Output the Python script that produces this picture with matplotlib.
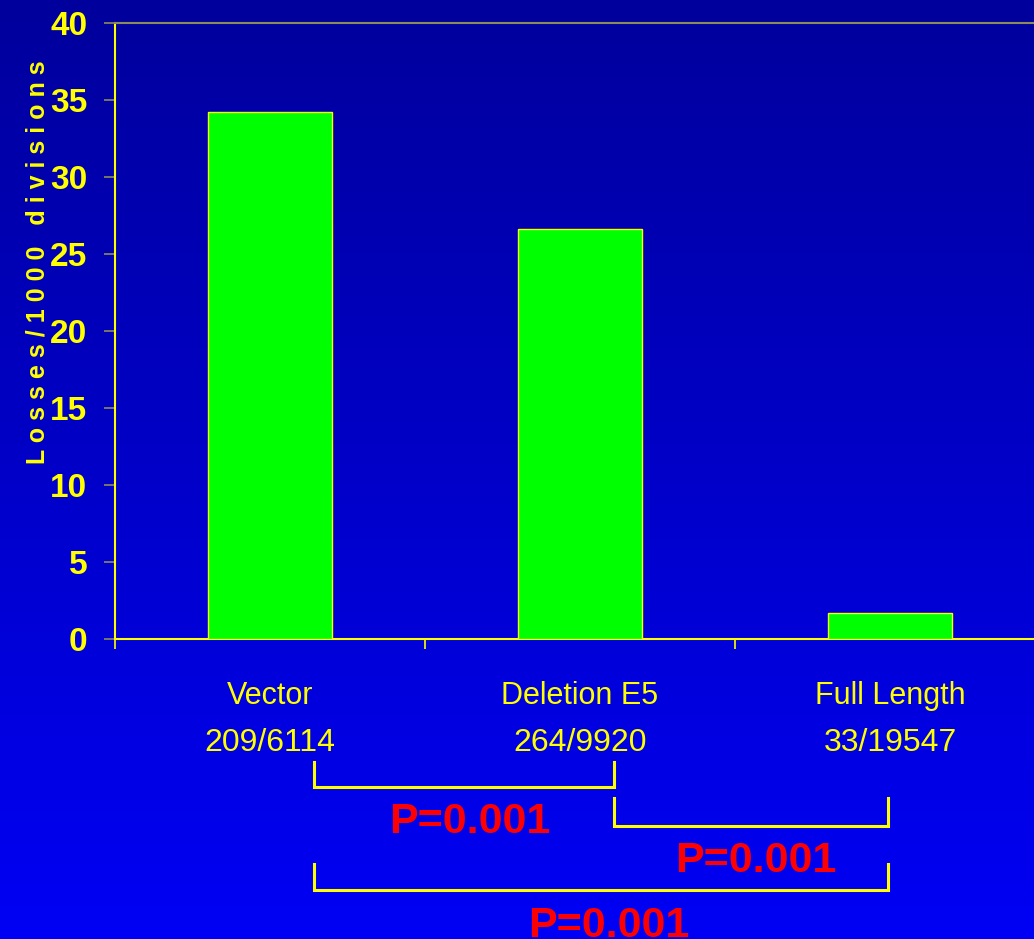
import matplotlib.pyplot as plt
import numpy as np

# data
categories = ['Vector', 'Deletion E5', 'Full Length']
counts = ['209/6114', '264/9920', '33/19547']
losses = [34.2, 26.6, 1.7]
p_labels = ['P=0.001', 'P=0.001', 'P=0.001']

yellow = '#FFFF00'
font = ['Liberation Sans', 'DejaVu Sans']

fig = plt.figure(figsize=(10.34, 9.39), dpi=100)

# blue gradient background
bg = fig.add_axes([0, 0, 1, 1], zorder=-10)
grad = np.linspace(0, 1, 256).reshape(-1, 1)
top = np.array([0, 0, 156]) / 255
bot = np.array([0, 0, 245]) / 255
img = top + (bot - top) * grad[:, :, None]
bg.imshow(img.reshape(256, 1, 3), aspect='auto', extent=[0, 1, 0, 1])
bg.axis('off')

ax = fig.add_axes([0.1112, 0.3195, 0.8994, 0.656])
ax.patch.set_alpha(0)

x = np.arange(len(categories))
ax.bar(x, losses, width=0.4, color='#00FF00', edgecolor=yellow, linewidth=1, zorder=3)

ax.set_xlim(-0.5, 2.5)
ax.set_ylim(0, 40)
ax.set_yticks(range(0, 41, 5))
ax.set_yticklabels([str(v) for v in range(0, 41, 5)], family=font,
                   fontweight='bold', fontsize=24, color=yellow)
ax.tick_params(axis='y', length=8, width=1.2, color='#8c8c5a', pad=12)
ax.set_xticks([-0.5, 0.5, 1.5, 2.5])
ax.set_xticklabels([])
ax.tick_params(axis='x', length=7, width=1.2, color=yellow)

for s in ['left', 'bottom']:
    ax.spines[s].set_color(yellow)
    ax.spines[s].set_linewidth(1.5)
ax.spines['top'].set_color('#8c8c5a')
ax.spines['top'].set_linewidth(1.5)
ax.spines['right'].set_visible(False)

ax.set_ylabel(' '.join('Losses/1000') + '   ' + ' '.join('divisions'),
              family=font, fontweight='bold', fontsize=18, color=yellow)
ax.yaxis.set_label_coords(-0.07, 0.612)

# category labels below the axis
for i in x:
    ax.text(i, -4.22, categories[i], ha='center', va='baseline', family=font,
            fontsize=22, color=yellow, clip_on=False)
    ax.text(i, -7.27, counts[i], ha='center', va='baseline', family=font,
            fontsize=23, color=yellow, clip_on=False)

# significance brackets
brackets = [(0.142, 1.11, -7.99, -9.61), (1.11, 1.994, -10.32, -12.14),
            (0.142, 1.994, -14.61, -16.30)]
for x0, x1, y0, y1 in brackets:
    ax.plot([x0, x0, x1, x1], [y0, y1, y1, y0], color=yellow, lw=2.2,
            clip_on=False, solid_joinstyle='miter')

p_pos = [(0.6435, -12.6), (1.568, -15.13), (1.0935, -19.35)]
for (px, py), lab in zip(p_pos, p_labels):
    ax.text(px, py, lab, ha='center', va='baseline', family=font,
            fontweight='bold', fontsize=31, color='#FF0000', clip_on=False)

fig.savefig('out.png', dpi=100)
